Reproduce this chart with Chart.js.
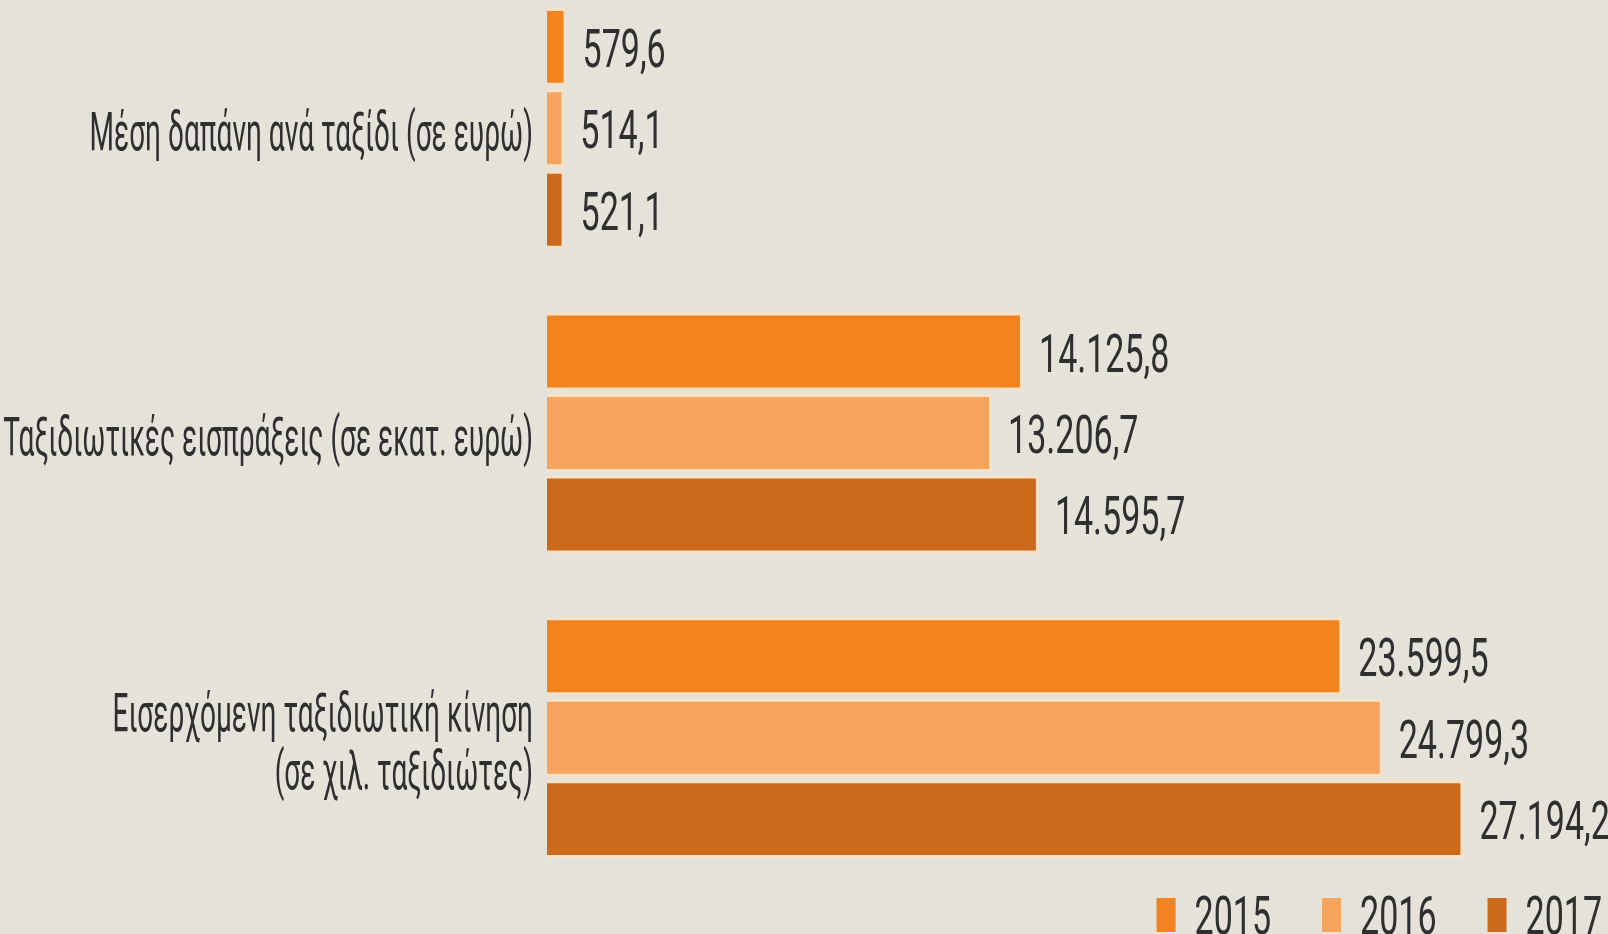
<!DOCTYPE html>
<html lang="el">
<head>
<meta charset="utf-8">
<title>Τουρισμός 2015-2017</title>
<script src="https://cdn.jsdelivr.net/npm/chart.js@4.4.1/dist/chart.umd.min.js"></script>
<style>
    html, body { margin: 0; padding: 0; background: #e4e2d9; overflow: hidden; }
    body { width: 1608px; height: 934px; position: relative; }
    #chart { position: absolute; left: 0; top: -24px; }
</style>
</head>
<body>
<canvas id="chart" width="1608" height="958"></canvas>
<script>
const categories = [
    'Μέση δαπάνη ανά ταξίδι (σε ευρώ)',
    'Ταξιδιωτικές εισπράξεις (σε εκατ. ευρώ)',
    ['Εισερχόμενη ταξιδιωτική κίνηση', '(σε χιλ. ταξιδιώτες)']
];
const years = ['2015', '2016', '2017'];
const values2015 = [579.6, 14125.8, 23599.5];
const values2016 = [514.1, 13206.7, 24799.3];
const values2017 = [521.1, 14595.7, 27194.2];
const axisMax = 30000;

const colors = ['#f2831f', '#f6a35e', '#cb6a1b'];
const TEXT = '#2f2f2f';
const FONT = '54px Roboto, "Noto Sans", sans-serif';
const NUM_SQUEEZE = 0.63;
const LABEL_SQUEEZE = 0.52;

// 23599.5 -> "23.599,5"
function fmt(v) {
    const parts = v.toFixed(1).split('.');
    return parts[0].replace(/\B(?=(\d{3})+(?!\d))/g, '.') + ',' + parts[1];
}

// the original uses a very narrow typeface, so squeeze the text horizontally
function squeezedText(ctx, text, x, y, align, sx) {
    ctx.save();
    ctx.translate(x, y);
    ctx.scale(sx, 1);
    ctx.textAlign = align;
    ctx.fillText(text, 0, 0);
    ctx.restore();
}

const textPlugin = {
    id: 'textPlugin',
    afterDraw(chart) {
        const ctx = chart.ctx;
        const area = chart.chartArea;
        const yScale = chart.scales.y;
        ctx.save();
        ctx.font = FONT;
        ctx.fillStyle = TEXT;
        ctx.textBaseline = 'alphabetic';

        // category labels
        chart.data.labels.forEach((label, i) => {
            const lines = Array.isArray(label) ? label : [label];
            const yc = yScale.getPixelForTick(i);
            lines.forEach((line, j) => {
                const y = yc + (j - (lines.length - 1) / 2) * 58 + 22;
                squeezedText(ctx, line, area.left - 14, y, 'right', LABEL_SQUEEZE);
            });
        });

        // value labels
        chart.data.datasets.forEach((ds, d) => {
            chart.getDatasetMeta(d).data.forEach((bar, i) => {
                squeezedText(ctx, fmt(ds.data[i]), bar.x + 16, bar.y + 20, 'left', NUM_SQUEEZE);
            });
        });

        // legend, right aligned at the bottom
        let right = chart.width - 6;
        const base = area.bottom + 44;
        for (let d = chart.data.datasets.length - 1; d >= 0; d--) {
            const ds = chart.data.datasets[d];
            const w = ctx.measureText(ds.label).width * NUM_SQUEEZE;
            squeezedText(ctx, ds.label, right, base, 'right', NUM_SQUEEZE);
            const boxRight = right - w - 19;
            ctx.fillStyle = ds.backgroundColor;
            ctx.fillRect(boxRight - 19, area.bottom + 8, 19, 34);
            ctx.fillStyle = TEXT;
            right = boxRight - 19 - 51;
        }
        ctx.restore();
    }
};

new Chart(document.getElementById('chart'), {
    type: 'bar',
    data: {
        labels: categories,
        datasets: [
            { label: years[0], data: values2015, backgroundColor: colors[0] },
            { label: years[1], data: values2016, backgroundColor: colors[1] },
            { label: years[2], data: values2017, backgroundColor: colors[2] }
        ]
    },
    options: {
        indexAxis: 'y',
        responsive: false,
        animation: false,
        layout: { padding: { left: 0, right: 50, top: 0, bottom: 44 } },
        datasets: {
            bar: {
                categoryPercentage: 0.802,
                barPercentage: 0.957,
                borderWidth: 3,
                borderColor: '#fbe2c6'
            }
        },
        plugins: {
            legend: { display: false },
            tooltip: { enabled: false }
        },
        scales: {
            x: { display: false, min: 0, max: axisMax },
            y: {
                grid: { display: false },
                border: { display: false },
                ticks: { display: false },
                afterFit(scale) { scale.width = 547; }
            }
        }
    },
    plugins: [textPlugin]
});
</script>
</body>
</html>
